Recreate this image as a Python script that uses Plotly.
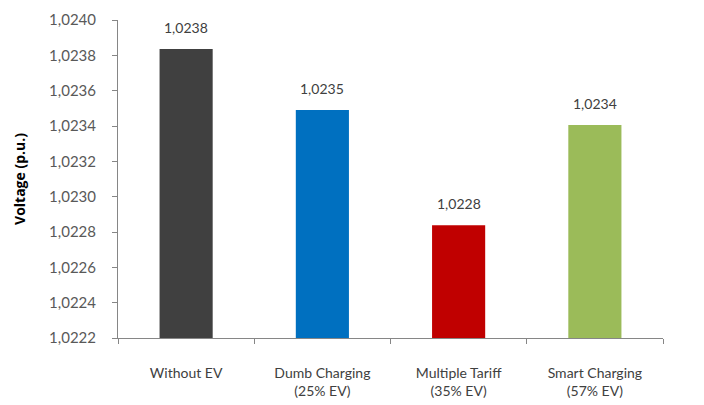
import plotly.graph_objects as go

categories = ["Without EV", "Dumb Charging<br>(25% EV)", "Multiple Tariff<br>(35% EV)", "Smart Charging<br>(57% EV)"]
voltages = [1.023836, 1.023491, 1.022838, 1.023406]
bar_colors = ["#404040", "#0070C0", "#C00000", "#9BBB59"]
y_floor = 1.0222
y_ticks = [y_floor + 0.0002 * i for i in range(10)]

font_family = "Lato, 'Open Sans', sans-serif"

fig = go.Figure(
    go.Bar(
        x=categories,
        y=[v - y_floor for v in voltages],
        base=y_floor,
        marker=dict(color=bar_colors, line=dict(width=0)),
        hoverinfo="skip",
    )
)

# value labels above each bar
for cat, v in zip(categories, voltages):
    fig.add_annotation(
        x=cat,
        y=v,
        text=f"{v:.4f}".replace(".", ","),
        showarrow=False,
        yanchor="bottom",
        yshift=11,
        font=dict(family=font_family, size=14, color="#404040"),
    )

fig.update_layout(
    width=704,
    height=405,
    margin=dict(l=118, r=41, t=20, b=67),
    paper_bgcolor="white",
    plot_bgcolor="white",
    bargap=0.61,
    separators=",.",
    showlegend=False,
    font=dict(family=font_family, size=14, color="#595959"),
)

fig.update_xaxes(
    automargin=False,
    showline=True,
    linecolor="#868686",
    linewidth=1,
    ticks="outside",
    tickson="boundaries",
    ticklen=5,
    tickcolor="#868686",
    ticklabelstandoff=22,
    tickfont=dict(family=font_family, size=14, color="#404040"),
    showgrid=False,
)

fig.update_yaxes(
    automargin=False,
    range=[y_floor, 1.0240],
    tickvals=y_ticks,
    tickformat=".4f",
    showline=True,
    linecolor="#868686",
    linewidth=1,
    ticks="outside",
    ticklen=5,
    tickcolor="#868686",
    ticklabelstandoff=13,
    tickfont=dict(family=font_family, size=15, color="#595959"),
    showgrid=False,
    zeroline=False,
    title=dict(
        text="<b>Voltage (p.u.)</b>",
        font=dict(family="'Open Sans', sans-serif", size=14, color="#000000"),
        standoff=20,
    ),
)

fig.write_html("out.html")
